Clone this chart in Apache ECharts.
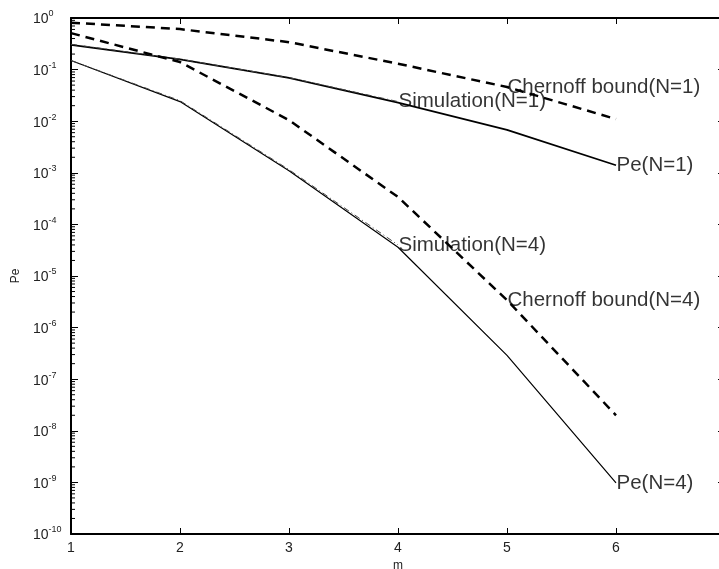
<!DOCTYPE html>
<html>
<head>
<meta charset="utf-8">
<script src="https://cdn.jsdelivr.net/npm/echarts@6/dist/echarts.min.js"></script>
<style>
  html, body { margin: 0; padding: 0; background: #fff; }
  #container1 { width: 719px; height: 569px; }
</style>
</head>
<body>
<div id="container1"></div>
<script>
// m values on the x axis
var mVals = [1, 2, 3, 4, 5, 6];
var chernoffN1 = [0.81, 0.61, 0.34, 0.13, 0.046, 0.011];
var peN1 = [0.30, 0.158, 0.069, 0.023, 0.0068, 0.00140];
var simN1 = [0.31, 0.160, 0.070, 0.024];
var chernoffN4 = [0.51, 0.14, 0.0105, 3.4e-4, 3.4e-6, 2.0e-8];
var peN4 = [0.15, 0.024, 1.1e-3, 3.6e-5, 2.9e-7, 9.8e-10];
var simN4 = [0.15, 0.025, 1.15e-3, 4.0e-5];
var decades = [-10, -9, -8, -7, -6, -5, -4, -3, -2, -1, 0];

// text labels: [text, m, value]
var curveLabels = [
  ['Chernoff bound(N=1)', 5, chernoffN1[4]],
  ['Simulation(N=1)', 4, simN1[3]],
  ['Pe(N=1)', 6, peN1[5]],
  ['Simulation(N=4)', 4, simN4[3]],
  ['Chernoff bound(N=4)', 5, chernoffN4[4]],
  ['Pe(N=4)', 6, peN4[5]]
];

function pairs(vals) {
  return vals.map(function (v, i) { return [mVals[i], v]; });
}

// minor ticks 2..9 within each decade
var minorTicks = [];
for (var d = 0; d < decades.length - 1; d++) {
  for (var k = 2; k <= 9; k++) {
    minorTicks.push([1, k * Math.pow(10, decades[d])]);
  }
}

var dom = document.getElementById("container1");
var myChart = echarts.init(dom);

var font = 'Liberation Sans, Arial, sans-serif';

function yLabel(v) {
  var e = Math.round(Math.log10(v));
  return '{b|10}{s|' + e + '}';
}

var option = {
  backgroundColor: '#fff',
  animation: false,
  grid: { left: 71, top: 18, width: 654, bottom: 35, outerBoundsMode: 'none', containLabel: false },
  xAxis: [
    {
      type: 'value', min: 1, max: 7, interval: 1, position: 'bottom',
      name: 'm', nameLocation: 'middle', nameGap: 19,
      nameTextStyle: { fontFamily: font, fontSize: 12, color: '#222' },
      axisLine: { lineStyle: { color: '#000', width: 2 } },
      axisTick: { inside: true, length: 6, lineStyle: { color: '#000', width: 1 } },
      axisLabel: { fontFamily: font, fontSize: 14, color: '#222', margin: 7,
        formatter: function (v) { return v <= 6 ? String(v) : ''; } },
      splitLine: { show: false }
    },
    {
      type: 'value', min: 1, max: 7, interval: 1, position: 'top',
      axisLine: { lineStyle: { color: '#000', width: 2 } },
      axisTick: { inside: true, length: 6, lineStyle: { color: '#000', width: 1 } },
      axisLabel: { show: false },
      splitLine: { show: false }
    }
  ],
  yAxis: [
    {
      type: 'log', logBase: 10, min: 1e-10, max: 1, interval: 1, position: 'left',
      name: 'Pe', nameLocation: 'middle', nameGap: 44,
      nameTextStyle: { fontFamily: font, fontSize: 12, color: '#222' },
      axisLine: { lineStyle: { color: '#000', width: 2 } },
      axisTick: { inside: true, length: 7, lineStyle: { color: '#000', width: 1 } },
      axisLabel: {
        align: 'left', margin: 38, formatter: yLabel, showMinLabel: true, showMaxLabel: true,
        rich: {
          b: { fontFamily: font, fontSize: 14, color: '#222', verticalAlign: 'bottom' },
          s: { fontFamily: font, fontSize: 9, color: '#222', padding: [0, 0, 8, 0], verticalAlign: 'bottom' }
        }
      },
      splitLine: { show: false }
    },
    {
      type: 'log', logBase: 10, min: 1e-10, max: 1, interval: 1, position: 'right',
      axisLine: { lineStyle: { color: '#000', width: 2 } },
      axisTick: { inside: true, length: 7, lineStyle: { color: '#000', width: 1 } },
      axisLabel: { show: false },
      splitLine: { show: false }
    }
  ],
  series: [
    {
      type: 'custom', name: 'minor', silent: true, clip: false,
      data: minorTicks,
      renderItem: function (params, api) {
        var l = api.coord([1, api.value(1)]);
        var r = api.coord([7, api.value(1)]);
        return {
          type: 'group',
          children: [
            { type: 'line', shape: { x1: l[0], y1: l[1], x2: l[0] + 4, y2: l[1] },
              style: { stroke: '#000', lineWidth: 1 } },
            { type: 'line', shape: { x1: r[0], y1: r[1], x2: r[0] - 4, y2: r[1] },
              style: { stroke: '#000', lineWidth: 1 } }
          ]
        };
      }
    },
    {
      type: 'line', name: 'Chernoff bound(N=1)', data: pairs(chernoffN1), symbol: 'none',
      lineStyle: { color: '#000', width: 2.5, type: [9, 6] }
    },
    {
      type: 'line', name: 'Pe(N=1)', data: pairs(peN1), symbol: 'none',
      lineStyle: { color: '#000', width: 1.8 }
    },
    {
      type: 'line', name: 'Simulation(N=1)', data: pairs(simN1), symbol: 'none',
      lineStyle: { color: '#444', width: 1, type: [6, 3, 1, 3] }
    },
    {
      type: 'line', name: 'Chernoff bound(N=4)', data: pairs(chernoffN4), symbol: 'none',
      lineStyle: { color: '#000', width: 2.5, type: [9, 6] }
    },
    {
      type: 'line', name: 'Pe(N=4)', data: pairs(peN4), symbol: 'none',
      lineStyle: { color: '#000', width: 1.2 }
    },
    {
      type: 'line', name: 'Simulation(N=4)', data: pairs(simN4), symbol: 'none',
      lineStyle: { color: '#444', width: 1, type: [6, 3, 1, 3] }
    },
    {
      type: 'scatter', name: 'labels', silent: true,
      symbol: 'circle', symbolSize: 1,
      itemStyle: { color: 'rgba(0,0,0,0)' },
      data: curveLabels.map(function (c) { return { value: [c[1], c[2]], name: c[0] }; }),
      label: {
        show: true, position: 'right', distance: 0,
        fontFamily: font, fontSize: 20.5, color: '#000',
        formatter: function (p) { return p.name; }
      }
    }
  ]
};

myChart.setOption(option);
</script>
</body>
</html>
